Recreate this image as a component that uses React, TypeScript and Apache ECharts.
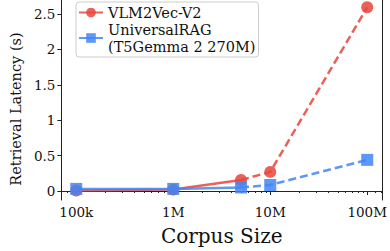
import React, { useEffect, useRef } from "react";
import * as echarts from "echarts";

const corpusSizes = [1e5, 1e6, 5e6, 1e7, 1e8];
const vlm2vecLatency = [0.008, 0.02, 0.155, 0.27, 2.595];
const universalRagLatency = [0.03, 0.03, 0.05, 0.085, 0.44];
const solidEndIndex = 2; // solid up to 5M, dashed afterwards
const majorTicks = [1e5, 1e6, 1e7, 1e8];
const majorTickLabels = ["100k", "1M", "10M", "100M"];
const minorTicks = [
  2e5, 3e5, 4e5, 5e5, 6e5, 7e5, 8e5, 9e5,
  2e6, 3e6, 4e6, 5e6, 6e6, 7e6, 8e6, 9e6,
  2e7, 3e7, 4e7, 5e7, 6e7, 7e7, 8e7, 9e7,
  8e4, 9e4, 1e8 * 1.2, 1e8 * 1.4,
];
const yTicks = [0, 0.5, 1, 1.5, 2, 2.5];
const seriesNames = ["VLM2Vec-V2", "UniversalRAG\n(T5Gemma 2 270M)"];
const xTitle = "Corpus Size";
const yTitle = "Retrieval Latency (s)";

const RED = "#e8453c";
const BLUE = "#4285f4";
const SERIF = "DejaVu Serif";

function pairs(xs: number[], ys: number[], from: number, to: number) {
  const out: any[] = [];
  for (let i = from; i <= to; i++) out.push([xs[i], ys[i]]);
  return out;
}

export default function App() {
  const ref = useRef<HTMLDivElement>(null);
  useEffect(() => {
    if (!ref.current) return;
    const chart = echarts.init(ref.current, null, { renderer: "svg" });
    const last = corpusSizes.length - 1;
    const mkSeries = (name: string, ys: number[], color: string, symbol: string, z: number) => [
      {
        name,
        type: "line",
        data: pairs(corpusSizes, ys, 0, solidEndIndex),
        symbol,
        symbolSize: 12,
        lineStyle: { color, width: 2.5, opacity: 0.85 },
        itemStyle: { color, opacity: 0.85 },
        z,
      },
      {
        name: name + " (dashed)",
        type: "line",
        data: pairs(corpusSizes, ys, solidEndIndex, last).map((d, i) =>
          i === 0 ? { value: d, symbol: "none" } : d
        ),
        symbol,
        symbolSize: 12,
        lineStyle: { color, width: 2.5, opacity: 0.85, type: [8, 4] },
        itemStyle: { color, opacity: 0.85 },
        z,
      },
    ];
    const xMin = 70230;
    const xMax = 1.424e8;
    chart.setOption({
      animation: false,
      grid: { left: 61, right: 6, top: 0, bottom: 51 },
      legend: {
        data: seriesNames,
        orient: "vertical",
        left: 76,
        top: 2,
        itemWidth: 24,
        itemHeight: 12,
        itemGap: 0,
        padding: [2, 3, 2, 2],
        backgroundColor: "rgba(255,255,255,0.8)",
        borderColor: "#cccccc",
        borderWidth: 1,
        borderRadius: 3,
        textStyle: { fontFamily: SERIF, fontSize: 14.5, lineHeight: 17, color: "#111" },
      },
      xAxis: [
        {
          type: "log",
          logBase: 10,
          min: xMin,
          max: xMax,
          name: xTitle,
          nameLocation: "middle",
          nameGap: 36,
          nameTextStyle: { fontFamily: SERIF, fontSize: 20, color: "#111", verticalAlign: "middle" },
          axisLine: { show: true, lineStyle: { color: "#222", width: 1 } },
          axisTick: { show: true, length: 4, customValues: majorTicks, lineStyle: { color: "#222" } },
          axisLabel: {
            customValues: majorTicks,
            formatter: (v: number) => majorTickLabels[Math.round(Math.log10(v)) - 5],
            fontFamily: SERIF,
            fontSize: 13.5,
            color: "#111",
            margin: 5,
          },
          splitLine: { show: false },
          minorTick: { show: false },
        },
        {
          type: "log",
          logBase: 10,
          min: xMin,
          max: xMax,
          position: "bottom",
          axisLine: { show: false },
          axisTick: { show: true, length: 2, customValues: minorTicks, lineStyle: { color: "#222" } },
          axisLabel: { show: false },
          splitLine: { show: false },
        },
      ],
      yAxis: [
        {
          type: "value",
          min: -0.127,
          max: 2.698,
          name: yTitle,
          nameLocation: "middle",
          nameGap: 44,
          nameTextStyle: {
            fontFamily: SERIF,
            fontSize: 14.5,
            color: "#111",
            verticalAlign: "middle",
            padding: [0, 18, 0, 0],
          },
          axisLine: { show: true, lineStyle: { color: "#222", width: 1 } },
          axisTick: { show: true, length: 4, customValues: yTicks, lineStyle: { color: "#222" } },
          axisLabel: {
            customValues: yTicks,
            fontFamily: SERIF,
            fontSize: 13.5,
            color: "#111",
            margin: 6,
          },
          splitLine: { show: false },
        },
        {
          type: "value",
          position: "right",
          min: -0.127,
          max: 2.698,
          axisLine: { show: true, lineStyle: { color: "#222", width: 1 } },
          axisTick: { show: false },
          axisLabel: { show: false },
          splitLine: { show: false },
        },
      ],
      series: [
        ...mkSeries(seriesNames[0], vlm2vecLatency, RED, "circle", 2),
        ...mkSeries(seriesNames[1], universalRagLatency, BLUE, "rect", 3),
      ],
    });
    return () => chart.dispose();
  }, []);
  return (
    <div
      ref={ref}
      style={{ position: "fixed", left: 0, top: 0, width: 390, height: 251, background: "#fff" }}
    />
  );
}
